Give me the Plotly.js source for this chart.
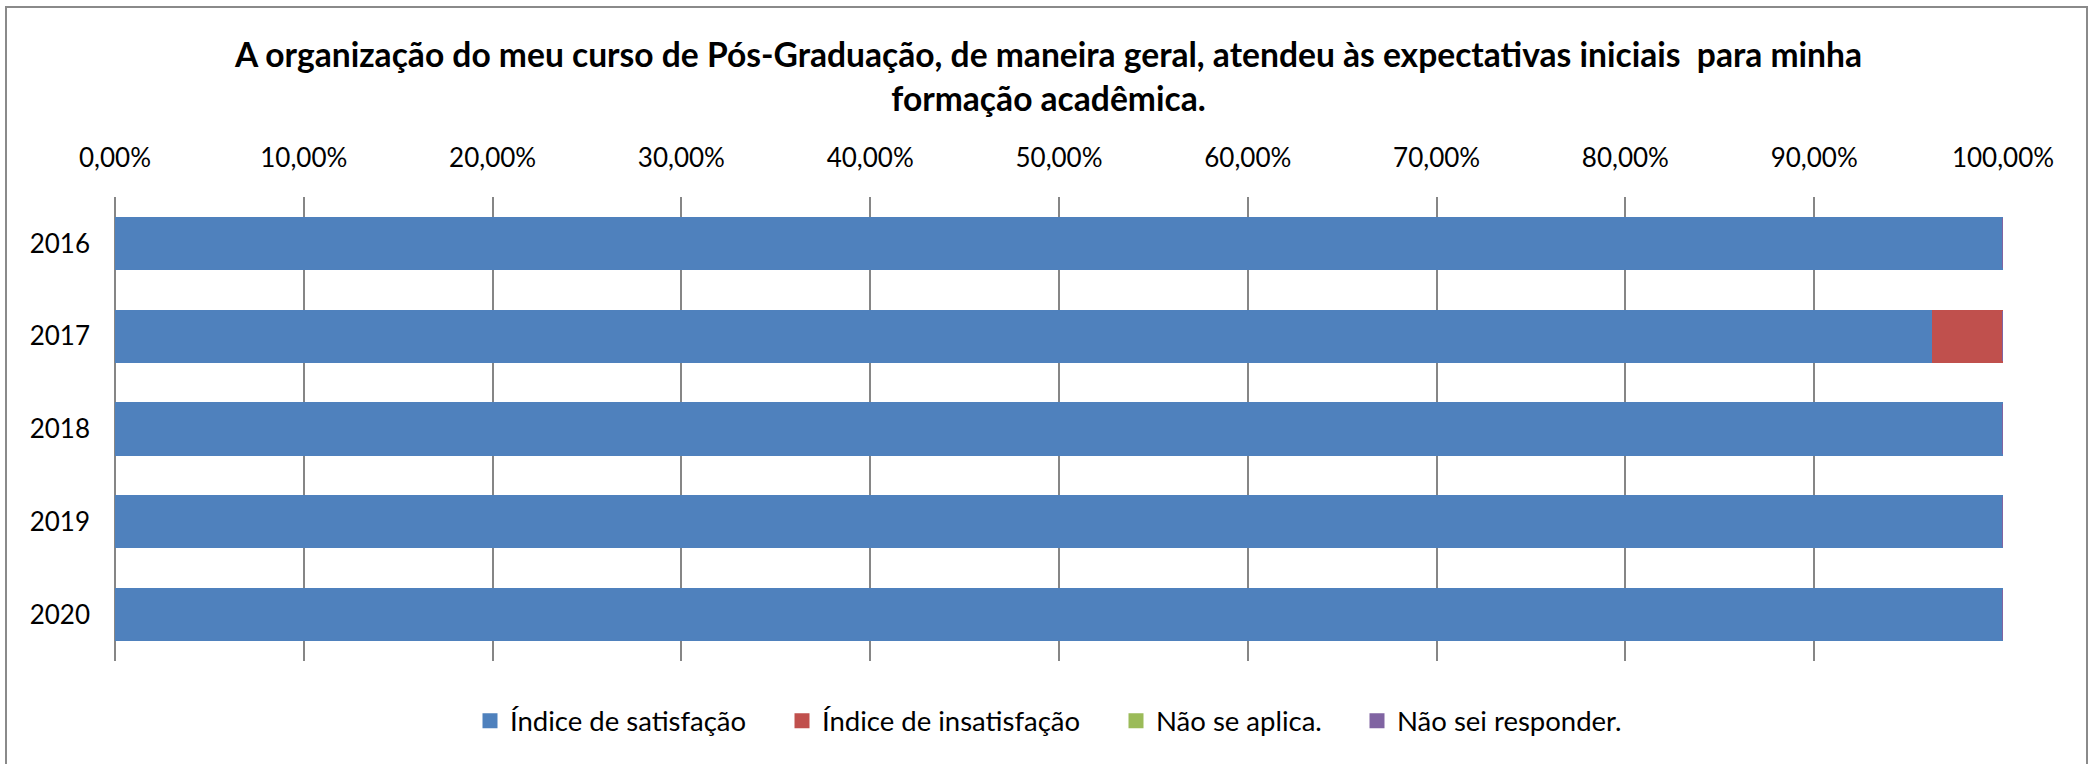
<!DOCTYPE html>
<html>
<head>
<meta charset="utf-8">
<script src="https://cdn.plot.ly/plotly-3.0.1.min.js"></script>
<style>
  html, body { margin: 0; padding: 0; background: #ffffff; overflow: hidden; }
  #chart { width: 2097px; height: 764px; position: absolute; left: 0; top: 0; }
  #frame { position: absolute; left: 5px; top: 6px; width: 2083px; height: 800px;
           border: 2.5px solid #8a8a8a; box-sizing: border-box; pointer-events: none; }
</style>
</head>
<body>
<div id="chart"></div>
<div id="frame"></div>
<script>
// Data
const years = ['2016', '2017', '2018', '2019', '2020'];
const satisfacao = [1.0, 0.963, 1.0, 1.0, 1.0];
const insatisfacao = [0.0, 0.037, 0.0, 0.0, 0.0];
const naoSeAplica = [0, 0, 0, 0, 0];
const naoSeiResponder = [0, 0, 0, 0, 0];
const seriesNames = ['Índice de satisfação', 'Índice de insatisfação', 'Não se aplica.', 'Não sei responder.'];
const seriesColors = ['#4F81BD', '#C0504D', '#9BBB59', '#8064A2'];
const xTickVals = [0, 0.1, 0.2, 0.3, 0.4, 0.5, 0.6, 0.7, 0.8, 0.9, 1.0];
const titleText = 'A organização do meu curso de Pós-Graduação, de maneira geral, atendeu às expectativas iniciais  para minha<br>formação acadêmica.';

// Legend entry positions (pixels of the symbol centre), one legend per series
const legendSymbolPx = [490, 802, 1136, 1377];

const W = 2097, H = 764;
const M = { l: 115, r: 94, t: 197, b: 103 };
const plotW = W - M.l - M.r;
const legendIds = ['legend', 'legend2', 'legend3', 'legend4'];

const seriesValues = [satisfacao, insatisfacao, naoSeAplica, naoSeiResponder];
const traces = seriesValues.map((vals, i) => ({
  type: 'bar',
  orientation: 'h',
  x: vals,
  y: years,
  name: seriesNames[i],
  legend: legendIds[i],
  marker: { color: seriesColors[i], line: { color: seriesColors[i], width: 3 } },
  hoverinfo: 'x+name'
}));

const FONT = 'Lato, "Open Sans", "Liberation Sans", sans-serif';
const legendFont = { family: FONT, size: 27.5, color: '#000000' };
const SYMBOL_OFFSET = 20; // distance from legend left edge to symbol centre

const layout = {
  width: W,
  height: H,
  paper_bgcolor: '#ffffff',
  plot_bgcolor: '#ffffff',
  font: { family: FONT, color: '#000000', size: 26 },
  barmode: 'stack',
  bargap: 0.46,
  margin: M,
  title: {
    text: titleText,
    font: { family: FONT, size: 33.6, color: '#000000', weight: 'bold' },
    x: 0.5, xref: 'container', xanchor: 'center',
    y: 1 - 67 / H, yref: 'container', yanchor: 'middle'
  },
  xaxis: {
    side: 'top',
    range: [0, 1],
    tickvals: xTickVals,
    tickformat: '.2%',
    showgrid: true,
    gridcolor: '#868686',
    gridwidth: 2,
    zeroline: true,
    zerolinecolor: '#868686',
    zerolinewidth: 2,
    showline: false,
    ticks: '',
    ticklabelstandoff: 24,
    tickfont: { family: FONT, size: 26, color: '#000000' },
    fixedrange: true
  },
  yaxis: {
    type: 'category',
    autorange: 'reversed',
    showgrid: false,
    zeroline: false,
    showline: false,
    ticks: '',
    ticklabelstandoff: 24,
    tickfont: { family: FONT, size: 26, color: '#000000' },
    fixedrange: true
  },
  separators: ',.',
  showlegend: true
};

legendIds.forEach((id, i) => {
  layout[id] = {
    orientation: 'h',
    x: (legendSymbolPx[i] - SYMBOL_OFFSET - M.l) / plotW,
    xanchor: 'left',
    y: -0.129, yanchor: 'middle',
    font: legendFont,
    bgcolor: 'rgba(0,0,0,0)',
    itemclick: false,
    itemdoubleclick: false
  };
});

Plotly.newPlot('chart', traces, layout, { displayModeBar: false, staticPlot: true });
</script>
</body>
</html>
